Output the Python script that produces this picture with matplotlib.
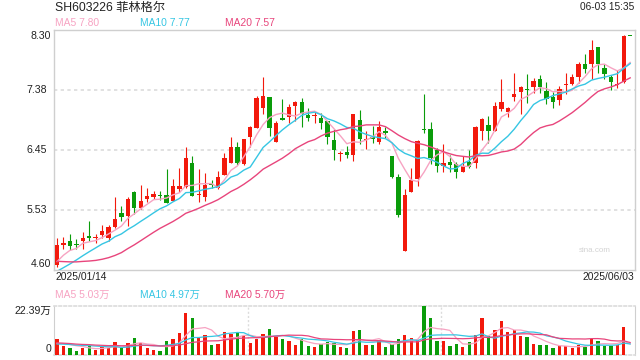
import matplotlib
matplotlib.use("Agg")
import matplotlib.pyplot as plt
import numpy as np

# ---------------- data ----------------
opens = [4.68, 4.99, 5.05, 5.00, 5.05, 5.13, 5.09, 5.14, 5.10, 5.26,
         5.48, 5.44, 5.80, 5.55, 5.70, 5.725, 5.75, 5.76, 5.66, 5.85,
         5.88, 6.25, 5.76, 5.73, 5.92, 5.87, 6.07, 6.25, 6.50, 6.23,
         6.65, 6.79, 7.09, 7.26, 6.58, 6.94, 6.96, 7.13, 7.185, 6.99,
         6.97, 6.94, 6.89, 6.60, 6.39, 6.42, 6.37, 6.91, 6.61, 6.655,
         6.58, 6.75, 6.35, 6.03, 4.90, 5.81, 6.00, 6.78, 6.77, 6.45,
         6.20, 6.26, 6.23, 6.115, 6.26, 6.245, 6.75, 6.84, 6.75, 7.08,
         7.03, 7.26, 7.35, 7.39, 7.42, 7.545, 7.36, 7.27, 7.22, 7.45,
         7.47, 7.58, 7.78, 7.78, 8.04, 7.71, 7.58, 7.45, 7.50, 8.21]
highs = [5.10, 5.11, 5.155, 5.08, 5.19, 5.355, 5.15, 5.30, 5.29, 5.73,
         5.59, 5.73, 5.82, 5.91, 5.86, 5.82, 5.82, 6.16, 6.00, 6.18,
         6.49, 6.36, 6.16, 6.09, 5.99, 6.12, 6.41, 6.65, 6.58, 6.62,
         6.82, 7.28, 7.57, 7.26, 6.89, 7.24, 7.16, 7.21, 7.25, 7.09,
         7.04, 7.02, 6.90, 6.77, 6.43, 6.51, 7.005, 7.07, 6.75, 6.82,
         6.89, 6.81, 6.36, 6.08, 5.85, 6.17, 6.60, 7.31, 6.88, 6.48,
         6.55, 6.37, 6.27, 6.35, 6.45, 6.825, 6.95, 6.97, 7.195, 7.545,
         7.12, 7.63, 7.44, 7.62, 7.56, 7.61, 7.50, 7.35, 7.43, 7.63,
         7.62, 7.81, 7.93, 8.15, 8.04, 7.77, 7.61, 7.69, 8.22, 8.21]
lows = [4.65, 4.93, 4.91, 4.92, 4.93, 5.04, 5.01, 5.09, 5.05, 5.25,
        5.355, 5.28, 5.47, 5.54, 5.65, 5.695, 5.68, 5.63, 5.66, 5.81,
        5.87, 5.74, 5.65, 5.66, 5.87, 5.85, 6.065, 6.25, 6.22, 6.22,
        6.50, 6.79, 7.00, 6.67, 6.575, 6.91, 6.86, 6.89, 6.80, 6.90,
        6.86, 6.77, 6.55, 6.30, 6.285, 6.32, 6.28, 6.55, 6.46, 6.56,
        6.54, 6.63, 6.02, 5.42, 4.89, 5.80, 5.90, 6.71, 6.23, 6.115,
        6.115, 6.115, 6.02, 6.105, 6.17, 6.18, 6.60, 6.56, 6.74, 7.05,
        6.96, 7.21, 7.00, 7.18, 7.33, 7.33, 7.16, 7.10, 7.15, 7.32,
        7.45, 7.48, 7.63, 7.54, 7.64, 7.55, 7.38, 7.40, 7.49, 8.21]
closes = [4.99, 5.01, 4.97, 4.99, 5.10, 5.10, 5.11, 5.20, 5.27, 5.39,
          5.42, 5.70, 5.55, 5.66, 5.74, 5.77, 5.74, 5.64, 5.90, 5.90,
          6.33, 5.745, 5.77, 5.91, 5.91, 6.03, 6.33, 6.50, 6.25, 6.62,
          6.81, 7.25, 7.28, 6.785, 6.86, 6.92, 7.11, 7.195, 7.005, 6.95,
          6.98, 6.86, 6.655, 6.45, 6.40, 6.37, 7.005, 6.62, 6.625, 6.62,
          6.80, 6.71, 6.03, 5.45, 5.76, 5.99, 6.59, 6.76, 6.32, 6.21,
          6.245, 6.22, 6.115, 6.21, 6.19, 6.81, 6.93, 6.74, 7.13, 7.185,
          7.09, 7.32, 7.42, 7.37, 7.52, 7.42, 7.24, 7.19, 7.39, 7.47,
          7.57, 7.78, 7.70, 7.99, 7.78, 7.62, 7.50, 7.46, 8.21, 8.21]
# volumes in 万 (10k shares)
volumes = [7.16, 4.03, 3.00, 1.80, 3.13, 4.18, 2.24, 3.43, 3.28, 5.82,
           3.28, 5.37, 7.61, 5.52, 3.00, 2.24, 1.80, 6.27, 7.16, 10.0,
           18.95, 16.57, 7.61, 8.96, 4.48, 5.07, 10.4, 9.70, 10.3, 8.80,
           5.52, 7.31, 9.55, 11.64, 8.21, 7.16, 6.42, 4.63, 7.16, 4.03,
           3.73, 4.93, 5.97, 5.52, 3.73, 3.13, 10.75, 11.2, 4.48, 4.48,
           6.12, 3.73, 4.93, 7.16, 8.96, 7.61, 6.72, 22.39, 16.72, 6.27,
           6.27, 4.03, 4.93, 3.58, 5.82, 8.96, 16.72, 8.51, 11.2, 15.23,
           10.3, 11.2, 8.51, 8.06, 4.93, 4.48, 4.48, 3.13, 4.03, 4.03,
           3.13, 4.48, 3.73, 7.16, 6.27, 4.03, 4.03, 4.48, 12.54, 0.0]
# estimated sessions before the first visible day (feed the moving averages)
prior_closes = [5.10, 5.05, 5.00, 4.95, 4.98, 4.92, 4.85, 4.78, 4.70, 4.55,
                4.45, 4.40, 4.38, 4.44, 4.48, 4.52, 4.60, 4.84, 4.70]
prior_volumes = [6.5, 6.0, 7.0, 6.2, 5.8, 6.5, 5.5, 6.0, 5.0, 5.2,
                 4.5, 4.8, 4.2, 4.6, 5.0, 4.5, 5.2, 4.6, 5.0]

price_ticks = [4.60, 5.53, 6.45, 7.38, 8.30]
price_tick_labels = ["4.60", "5.53", "6.45", "7.38", "8.30"]
title = "SH603226 菲林格尔"
timestamp = "06-03 15:35"
start_date, end_date = "2025/01/14", "2025/06/03"
ma_labels = ["MA5 7.80", "MA10 7.77", "MA20 7.57"]
vol_ma_labels = ["MA5 5.03万", "MA10 4.97万", "MA20 5.70万"]
vol_max_label = "22.39万"
ma_windows = [5, 10, 20]

# ---------------- style ----------------
RED = "#f2190c"
GREEN = "#0a9c0a"
MA_COLORS = ["#f7a3c2", "#36c6e3", "#e8457c"]
GRID = "#dcdcdc"
FRAME = "#cfcfcf"
FONT = ["Liberation Sans", "Noto Sans CJK SC", "DejaVu Sans"]
plt.rcParams["font.family"] = FONT

W, H = 640, 360
fig = plt.figure(figsize=(6.4, 3.6), dpi=100)

def fx(px):
    return px / W

def fy(py):
    return 1 - py / H

L, R = 54, 635
axp = fig.add_axes([fx(L), fy(270), fx(R - L), fy(30) - fy(270)])
axv = fig.add_axes([fx(L), fy(355), fx(R - L), fy(305.5) - fy(355)])

n = len(closes)
x = np.arange(n)
o = np.array(opens); c = np.array(closes); h = np.array(highs); lo = np.array(lows)
v = np.array(volumes)
cols = [RED if c[i] > o[i] else GREEN for i in range(n)]

xlim = (-0.47, 89.75)

# ---------------- price panel ----------------
axp.vlines(x, lo, h, colors=cols, linewidth=0.8, zorder=3)
body_bottom = np.minimum(o, c)
body_h = np.maximum(np.abs(c - o), 0.016)
axp.bar(x, body_h, bottom=body_bottom, width=0.68, color=cols, linewidth=0, zorder=4)

all_c = np.array(prior_closes + closes)
for w, col in zip(ma_windows, MA_COLORS):
    ma = np.convolve(all_c, np.ones(w) / w, mode="valid")
    ma = ma[len(ma) - n:]
    axp.plot(x, ma, color=col, linewidth=1.0, zorder=5, clip_on=True)

axp.set_xlim(*xlim)
axp.set_ylim(4.60, 8.30)
for t in price_ticks[1:-1]:
    axp.axhline(t, color=GRID, linewidth=1.2, linestyle=(0, (2, 2)), zorder=1)
axp.set_xticks([]); axp.set_yticks([])
for s in axp.spines.values():
    s.set_color(FRAME); s.set_linewidth(1.0)

# price tick labels
for t, lab in zip(price_ticks, price_tick_labels):
    if t == price_ticks[-1]:
        fig.text(fx(51), fy(31), lab, ha="right", va="top", fontsize=7.6, color="#222222")
    elif t == price_ticks[0]:
        fig.text(fx(51), fy(269), lab, ha="right", va="bottom", fontsize=7.6, color="#222222")
    else:
        axp.text(-0.012, t, lab, transform=axp.get_yaxis_transform(), ha="right",
                 va="center", fontsize=7.6, color="#222222")

axp.text(0.93, 0.08, "sina.com", transform=axp.transAxes, ha="center", va="center",
         fontsize=5.8, color="#d3d3d3")

# ---------------- volume panel ----------------
axv.bar(x, v, width=0.52, color=cols, linewidth=0, zorder=3)
all_v = np.array(prior_volumes + volumes)
for w, col in zip(ma_windows, MA_COLORS):
    ma = np.convolve(all_v, np.ones(w) / w, mode="valid")
    ma = ma[len(ma) - n:]
    axv.plot(x, ma, color=col, linewidth=0.9, zorder=4)
axv.set_xlim(*xlim)
axv.set_ylim(0, max(volumes))
axv.set_xticks([]); axv.set_yticks([])
for side in ["left", "right"]:
    axv.spines[side].set_color(FRAME)
for side in ["top", "bottom"]:
    axv.spines[side].set_color(GRID)
    axv.spines[side].set_linestyle((0, (1.5, 1.5)))
    axv.spines[side].set_linewidth(1.2)
for frac in (1 / 3, 2 / 3):
    axv.axvline(xlim[0] + frac * (xlim[1] - xlim[0]), color=GRID, linewidth=1.0,
                linestyle=(0, (1.5, 1.5)), zorder=1)

fig.text(fx(51), fy(306), vol_max_label, ha="right", va="top", fontsize=7.6, color="#222222")
fig.text(fx(51), fy(354), "0", ha="right", va="bottom", fontsize=7.6, color="#222222")

# ---------------- header texts ----------------
fig.text(fx(55), fy(7.5), title, ha="left", va="center", fontsize=8.8, color="#222222")
fig.text(fx(634), fy(7.5), timestamp, ha="right", va="center", fontsize=7.3, color="#222222")
for xx, lab, col in zip([55, 140, 225], ma_labels, MA_COLORS):
    fig.text(fx(xx), fy(23.5), lab, ha="left", va="center", fontsize=7.4, color=col)
fig.text(fx(55), fy(277.5), start_date, ha="left", va="center", fontsize=7.4, color="#222222")
fig.text(fx(634), fy(277.5), end_date, ha="right", va="center", fontsize=7.4, color="#222222")
for xx, lab, col in zip([55, 140, 225], vol_ma_labels, MA_COLORS):
    fig.text(fx(xx), fy(295), lab, ha="left", va="center", fontsize=7.4, color=col)

fig.savefig("out.png", dpi=100)
